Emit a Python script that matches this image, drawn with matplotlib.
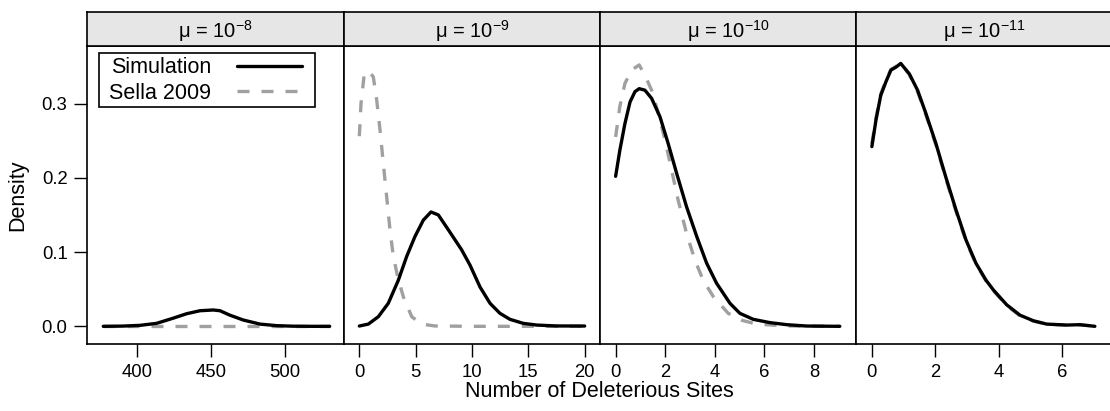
import numpy as np
import matplotlib
matplotlib.use('Agg')
from matplotlib import pyplot as plt
from matplotlib.patches import Rectangle

plt.rcParams['font.family'] = ['Liberation Sans', 'DejaVu Sans']
plt.rcParams['mathtext.fontset'] = 'custom'
plt.rcParams['mathtext.rm'] = 'Liberation Sans'
plt.rcParams['mathtext.it'] = 'Liberation Sans:italic'

# panel titles
titles = ['μ = 10$^{-8}$', 'μ = 10$^{-9}$', 'μ = 10$^{-10}$', 'μ = 10$^{-11}$']

# mu = 1e-8
sim1_x = [377, 390, 401.8, 413, 424.3, 433.4, 442.4, 451.4, 455.9, 462.6, 471.6, 482.9, 494.2, 505, 518, 530]
sim1_y = [0, 0.0003, 0.0013, 0.004, 0.011, 0.017, 0.021, 0.022, 0.021, 0.015, 0.0085, 0.003, 0.0009, 0.0002, 0, 0]
sel1_x = [377, 530]
sel1_y = [0, 0]

# mu = 1e-9
sim2_x = [0, 0.8, 1.69, 2.57, 3.46, 4.2, 4.94, 5.68, 6.36, 7.01, 7.9, 9.08, 9.82, 10.71, 11.6,
          12.48, 13.37, 14.55, 15.74, 17.5, 20]
sim2_y = [0.0004, 0.003, 0.013, 0.031, 0.062, 0.094, 0.121, 0.143, 0.154, 0.150, 0.130, 0.103, 0.0825, 0.053, 0.031,
          0.0175, 0.0094, 0.004, 0.0017, 0.0005, 0.0004]
sel2_x = [0, 0.15, 0.44, 0.8, 1.24, 1.54, 1.84, 2.13, 2.43, 2.72, 3.02, 3.4, 3.9, 4.65, 5.54, 6.7, 10, 15, 20]
sel2_y = [0.256, 0.300, 0.340, 0.344, 0.336, 0.305, 0.264, 0.219, 0.174, 0.130, 0.094, 0.067, 0.040, 0.013, 0.003,
          0.0005, 0, 0, 0]

# mu = 1e-10
sim3_x = [0, 0.17, 0.375, 0.58, 0.78, 0.95, 1.18, 1.45, 1.79, 2.12, 2.46, 2.86, 3.27, 3.67, 4.07, 4.61,
          5.01, 5.55, 6.22, 6.9, 7.7, 9.04]
sim3_y = [0.202, 0.237, 0.273, 0.302, 0.316, 0.320, 0.318, 0.307, 0.282, 0.246, 0.206, 0.161, 0.121, 0.085, 0.058, 0.031,
          0.0175, 0.0094, 0.005, 0.0022, 0.0004, 0]
sel3_x = [0, 0.17, 0.375, 0.645, 0.95, 1.18, 1.45, 1.72, 1.99, 2.26, 2.52, 2.86, 3.2, 3.53, 3.94, 4.54,
          5.1, 5.69, 6.9, 9.04]
sel3_y = [0.255, 0.296, 0.327, 0.345, 0.352, 0.338, 0.318, 0.287, 0.251, 0.210, 0.170, 0.125, 0.089, 0.062, 0.040, 0.0175,
          0.008, 0.003, 0.0005, 0]

# mu = 1e-11
sim4_x = [0, 0.13, 0.28, 0.44, 0.6, 0.76, 0.91, 1.18, 1.44, 1.7, 2.02, 2.33, 2.65, 2.97, 3.28, 3.6,
          3.83, 4.25, 4.67, 5.09, 5.51, 6.14, 6.56, 7.03]
sim4_y = [0.242, 0.278, 0.311, 0.329, 0.345, 0.349, 0.354, 0.340, 0.318, 0.287, 0.246, 0.201, 0.157, 0.116, 0.085, 0.062,
          0.049, 0.029, 0.015, 0.0075, 0.003, 0.0017, 0.0022, 0]
sel4_x = [0, 0.13, 0.28, 0.44, 0.6, 0.76, 0.91, 1.18, 1.44, 1.7, 2.02, 2.33, 2.65, 2.97, 3.28, 3.6,
          3.83, 4.25, 4.67, 5.09, 5.51, 6.14, 6.56, 7.03]
sel4_y = [0.246, 0.281, 0.313, 0.331, 0.346, 0.350, 0.354, 0.339, 0.316, 0.285, 0.244, 0.199, 0.155, 0.114, 0.084, 0.061,
          0.048, 0.028, 0.014, 0.007, 0.003, 0.0015, 0.0018, 0.0005]

sims = [(sim1_x, sim1_y), (sim2_x, sim2_y), (sim3_x, sim3_y), (sim4_x, sim4_y)]
sels = [(sel1_x, sel1_y), (sel2_x, sel2_y), (sel3_x, sel3_y), (sel4_x, sel4_y)]
xticks = [[400, 450, 500], [0, 5, 10, 15, 20], [0, 2, 4, 6, 8], [0, 2, 4, 6]]
xlims = [(366, 539.7), (-1.36, 21.36), (-0.63, 9.68), (-0.51, 7.57)]
yticks = [0.0, 0.1, 0.2, 0.3]

W, H = 1110, 411
fig = plt.figure(figsize=(W / 100, H / 100), dpi=100)

edges = [87, 344, 600, 855.7, 1112]
ptop, pbot, stop = 45.6, 344, 12

for i in range(4):
    l = edges[i] / W
    w = (edges[i + 1] - edges[i]) / W
    ax = fig.add_axes([l, 1 - pbot / H, w, (pbot - ptop) / H])
    sx = fig.add_axes([l, 1 - ptop / H, w, (ptop - stop) / H])
    sx.set_facecolor('#e6e6e6')
    sx.set_xticks([])
    sx.set_yticks([])
    sx.text(0.5, 0.22, titles[i], ha='center', va='baseline', fontsize=14.5, transform=sx.transAxes)

    ax.plot(sims[i][0], sims[i][1], color='black', lw=2.4, label='Simulation',
            solid_capstyle='round', solid_joinstyle='round', zorder=3)
    ax.plot(sels[i][0], sels[i][1], color='#a0a0a0', lw=2.4, ls=(0, (3.6, 3.6)), label='Sella 2009',
            dash_joinstyle='round', zorder=2)
    ax.set_xlim(*xlims[i])
    ax.set_ylim(-0.0238, 0.378)
    ax.set_xticks(xticks[i])
    ax.tick_params(axis='x', direction='out', length=9.5, width=1, labelsize=13.3, pad=5)
    if i == 0:
        ax.set_yticks(yticks)
        ax.set_yticklabels(['0.0', '0.1', '0.2', '0.3'])
        ax.tick_params(axis='y', direction='out', length=9.5, width=1, labelsize=13.3, pad=4.5)
        aw, ah = edges[1] - edges[0], pbot - ptop
        # legend box drawn by hand, entries placed inside it
        ax.add_patch(Rectangle(((99 - 87) / aw, 1 - (107 - ptop) / ah), (315 - 99) / aw, (107 - 53) / ah,
                               transform=ax.transAxes, fill=False, edgecolor='black', lw=1.2, zorder=5))
        ax.legend(loc='upper left', markerfirst=False, frameon=False, fontsize=15.5,
                  handlelength=3.0, borderaxespad=0, labelspacing=0.2,
                  borderpad=0.2, handletextpad=1.2,
                  bbox_to_anchor=((105 - 87) / aw, 1 - 7.4 / ah))
    else:
        ax.set_yticks([])
    for sp in list(ax.spines.values()) + list(sx.spines.values()):
        sp.set_linewidth(1.2)

fig.text(17.5 / W, 1 - 195 / H, 'Density', rotation=90, ha='center', va='center', fontsize=15.5)
fig.text(599.5 / W, 1 - 391 / H, 'Number of Deleterious Sites', ha='center', va='center', fontsize=15.5)

fig.savefig('out.png', dpi=100)
